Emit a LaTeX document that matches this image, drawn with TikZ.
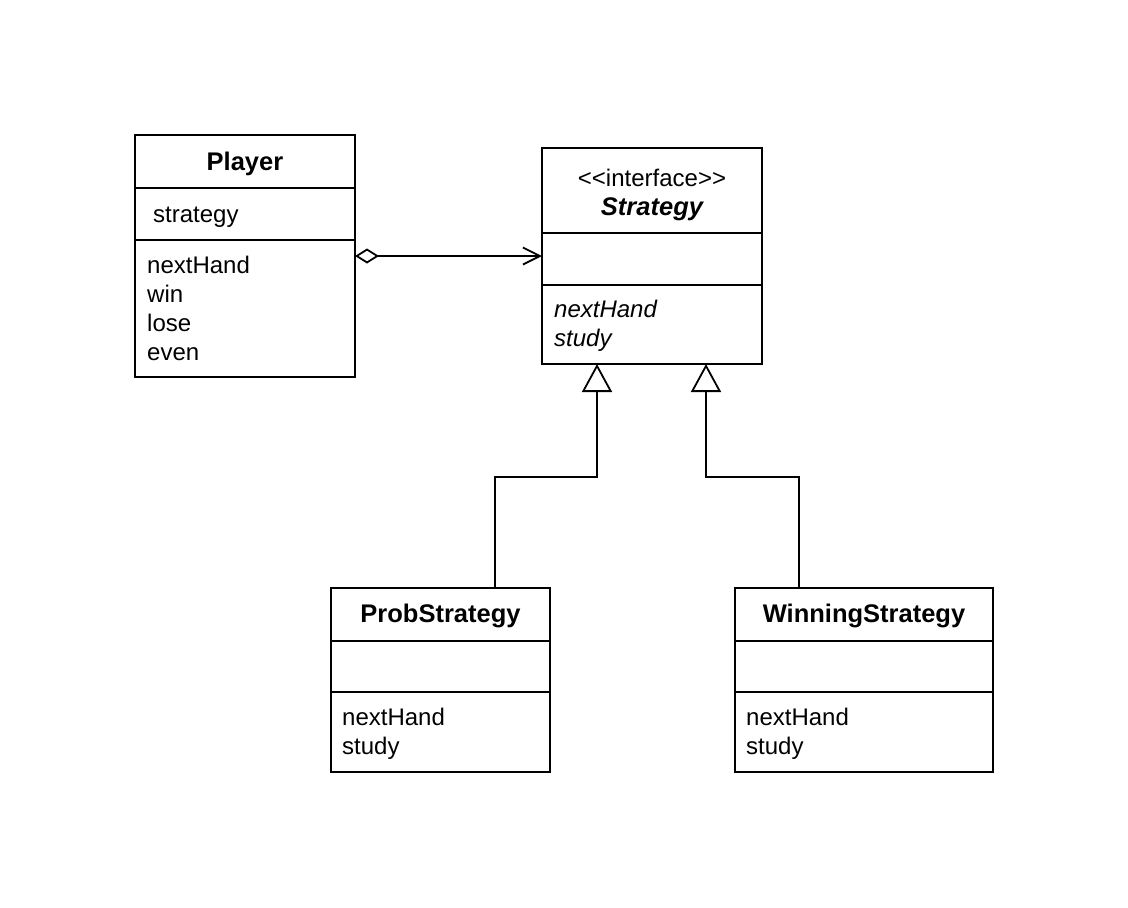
\documentclass[tikz,border=0pt]{standalone}
\usepackage{fontspec}
\setmainfont{Liberation Sans}
\usetikzlibrary{arrows.meta}
\begin{document}
\begin{tikzpicture}[x=1pt,y=-1pt,
  umlbox/.style={draw,line width=1.8pt,rectangle,inner sep=0pt,outer sep=0pt},
  divider/.style={line width=1.8pt},
  title/.style={anchor=base,inner sep=0pt,font=\fontsize{25.5}{29}\selectfont\bfseries},
  item/.style={anchor=base west,inner sep=0pt,font=\fontsize{24}{29}\selectfont},
  conn/.style={line width=1.8pt},
  gen/.style={conn,-{Triangle[open,length=28pt,width=30pt,line width=1.8pt]}},
  agg/.style={conn,{Diamond[open,length=24pt,width=15pt,line width=1.8pt]}-{Straight Barb[length=17pt,width=17pt,line width=1.8pt]}}
]
\useasboundingbox (0,0) rectangle (1128,908);

% Player
\node[umlbox,minimum width=220pt,minimum height=242pt] (player) at (245,256) {};
\draw[divider] (player.west |- 0,188) -- (player.east |- 0,188);
\draw[divider] (player.west |- 0,240) -- (player.east |- 0,240);
\node[title] (playertitle) at (245,170) {Player};
\node[item] (pf1) at (153,222) {strategy};
\node[item] (pm1) at (147,273) {nextHand};
\node[item] (pm2) at (147,302) {win};
\node[item] (pm3) at (147,331) {lose};
\node[item] (pm4) at (147,360) {even};

% Strategy
\node[umlbox,minimum width=220pt,minimum height=216pt] (strategy) at (652,256) {};
\draw[divider] (strategy.west |- 0,233) -- (strategy.east |- 0,233);
\draw[divider] (strategy.west |- 0,285) -- (strategy.east |- 0,285);
\node[item,anchor=base] (stereo) at (652,186) {{<}{<}interface{>}{>}};
\node[title,font=\fontsize{25.5}{29}\selectfont\bfseries\itshape] (strattitle) at (652,215) {Strategy};
\node[item,font=\fontsize{24}{29}\selectfont\itshape] (sm1) at (554,317) {nextHand};
\node[item,font=\fontsize{24}{29}\selectfont\itshape] (sm2) at (554,346) {study};

% ProbStrategy
\node[umlbox,minimum width=219pt,minimum height=184pt] (prob) at (440.5,680) {};
\draw[divider] (prob.west |- 0,641) -- (prob.east |- 0,641);
\draw[divider] (prob.west |- 0,692) -- (prob.east |- 0,692);
\node[title] (probtitle) at (440.5,622) {ProbStrategy};
\node[item] (prm1) at (342,725) {nextHand};
\node[item] (prm2) at (342,754) {study};

% WinningStrategy
\node[umlbox,minimum width=258pt,minimum height=184pt] (win) at (864,680) {};
\draw[divider] (win.west |- 0,641) -- (win.east |- 0,641);
\draw[divider] (win.west |- 0,692) -- (win.east |- 0,692);
\node[title] (wintitle) at (864,622) {WinningStrategy};
\node[item] (wm1) at (746,725) {nextHand};
\node[item] (wm2) at (746,754) {study};

% connectors
\draw[agg] (player.east) -- (strategy.west);
\draw[gen] ([xshift=54.5]prob.north) -- ++(0,-111) -| ([xshift=-55]strategy.south);
\draw[gen] ([xshift=-65]win.north) -- ++(0,-111) -| ([xshift=54]strategy.south);
\end{tikzpicture}
\end{document}
